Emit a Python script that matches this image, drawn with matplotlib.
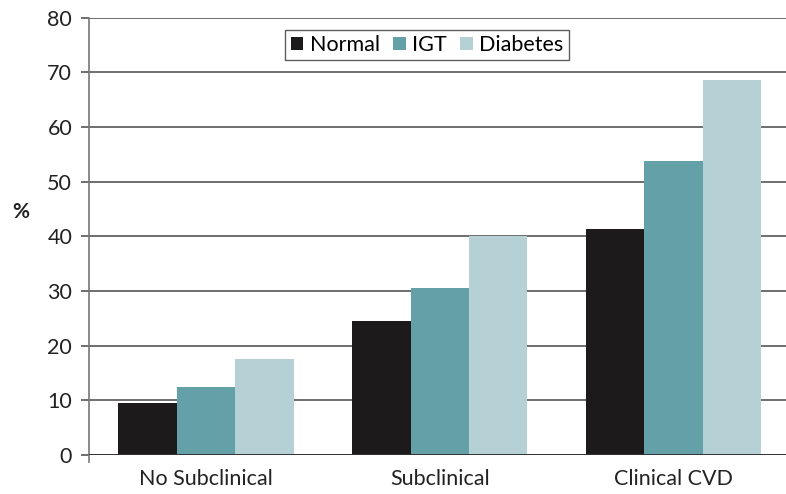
import numpy as np
import matplotlib.pyplot as plt

plt.rcParams['font.family'] = ['Lato', 'DejaVu Sans']

categories = ['No Subclinical', 'Subclinical', 'Clinical CVD']
series = ['Normal', 'IGT', 'Diabetes']
normal = [9.5, 24.5, 41.3]
igt = [12.4, 30.5, 53.8]
diabetes = [17.5, 40.1, 68.7]
colors = ['#1c1a1b', '#64a0a8', '#b6d1d6']

fig = plt.figure(figsize=(7.86, 4.94), dpi=100)
ax = fig.add_axes([0.113, 0.079, 0.887, 0.885])

x = np.arange(len(categories))
w = 0.25
for i, (vals, name) in enumerate(zip([normal, igt, diabetes], series)):
    ax.bar(x + (i - 1) * w, vals, w, color=colors[i], label=name, zorder=3)

ax.set_ylim(0, 80)
ax.set_xlim(-0.5, 2.48)
ax.set_yticks(range(0, 81, 10))
ax.set_xticks(x)
ax.set_xticklabels(categories)
ax.yaxis.grid(True, color='#555555', linewidth=1.2, zorder=0)
ax.tick_params(axis='y', length=6, color='#555555', width=1.2, labelsize=15.5, colors='#222222', pad=6)
ax.tick_params(axis='x', length=0, labelsize=15.5, colors='#222222', pad=10)
for s in ['top', 'right', 'bottom']:
    ax.spines[s].set_visible(False)
ax.spines['left'].set_color('#777777')
ax.spines['left'].set_linewidth(1.2)
ax.spines['left'].set_bounds(-1.2, 80)
ax.axhline(0, color='#333333', linewidth=1.4, zorder=4)

ax.set_ylabel('%', rotation=0, fontsize=15, fontweight='bold', color='#222222', va='center', ha='center')
ax.yaxis.set_label_coords(-0.098, 0.555)

leg = ax.legend(loc='upper center', bbox_to_anchor=(0.485, 0.973), ncol=3, frameon=True, fancybox=False,
                fontsize=15.5, handlelength=0.6, handleheight=0.6, handletextpad=0.3, columnspacing=0.6,
                borderpad=0.25, borderaxespad=0)
leg.get_frame().set_edgecolor('#333333')
leg.get_frame().set_linewidth(1.0)

fig.savefig('out.png', dpi=100)
